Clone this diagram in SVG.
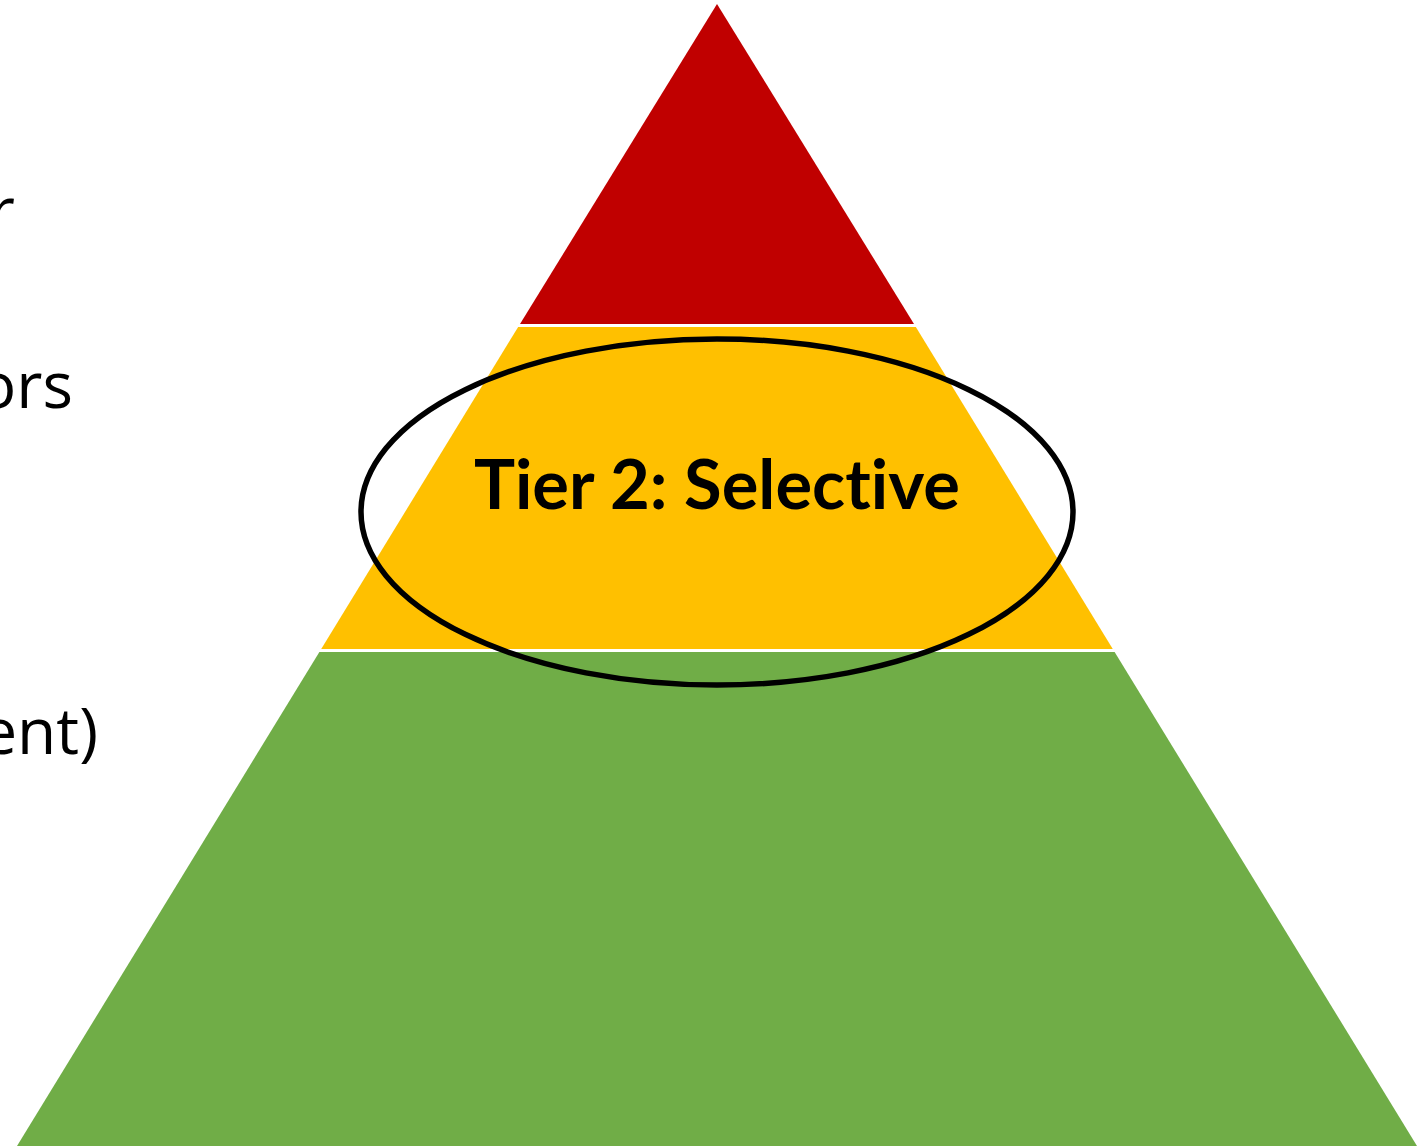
<svg xmlns="http://www.w3.org/2000/svg" width="1417" height="1146" viewBox="0 0 1417 1146">
  <style>
    .side { font-family: "Open Sans", "Liberation Sans", sans-serif; font-size: 64px; fill: #000; }
    .tier { font-family: "Lato", "Open Sans", sans-serif; font-weight: bold; font-size: 69px; fill: #000; font-variant-ligatures: none; font-feature-settings: "liga" 0; }
    .gap { stroke: #fff; stroke-width: 3; }
  </style>
  <rect width="1417" height="1146" fill="#fff"/>

  <!-- clipped labels from the left column -->
  <g id="labels">
    <text class="side" x="15" y="233" text-anchor="end">r</text>
    <text class="side" x="73" y="408" text-anchor="end">ors</text>
    <text class="side" x="98" y="754" text-anchor="end">ent)</text>
  </g>

  <!-- pyramid tiers -->
  <g id="tier3">
    <polygon points="717,4 914,324 520,324" fill="#c00000"/>
  </g>
  <g id="tier2">
    <polygon points="520,324 914,324 1114,651 320,651" fill="#ffc000"/>
    <text class="tier" x="717" y="509" text-anchor="middle" textLength="486" lengthAdjust="spacingAndGlyphs">Tier 2: Selective</text>
  </g>
  <g id="tier1">
    <polygon points="320,651 1114,651 1417,1146 17,1146" fill="#70ad47"/>
  </g>
  <g id="separators">
    <line class="gap" x1="510" y1="325.5" x2="925" y2="325.5"/>
    <line class="gap" x1="310" y1="650.5" x2="1125" y2="650.5"/>
  </g>

  <!-- highlight ring around tier 2 -->
  <g id="highlight">
    <ellipse cx="717" cy="512" rx="356" ry="173" fill="none" stroke="#000" stroke-width="5.5"/>
  </g>
</svg>
